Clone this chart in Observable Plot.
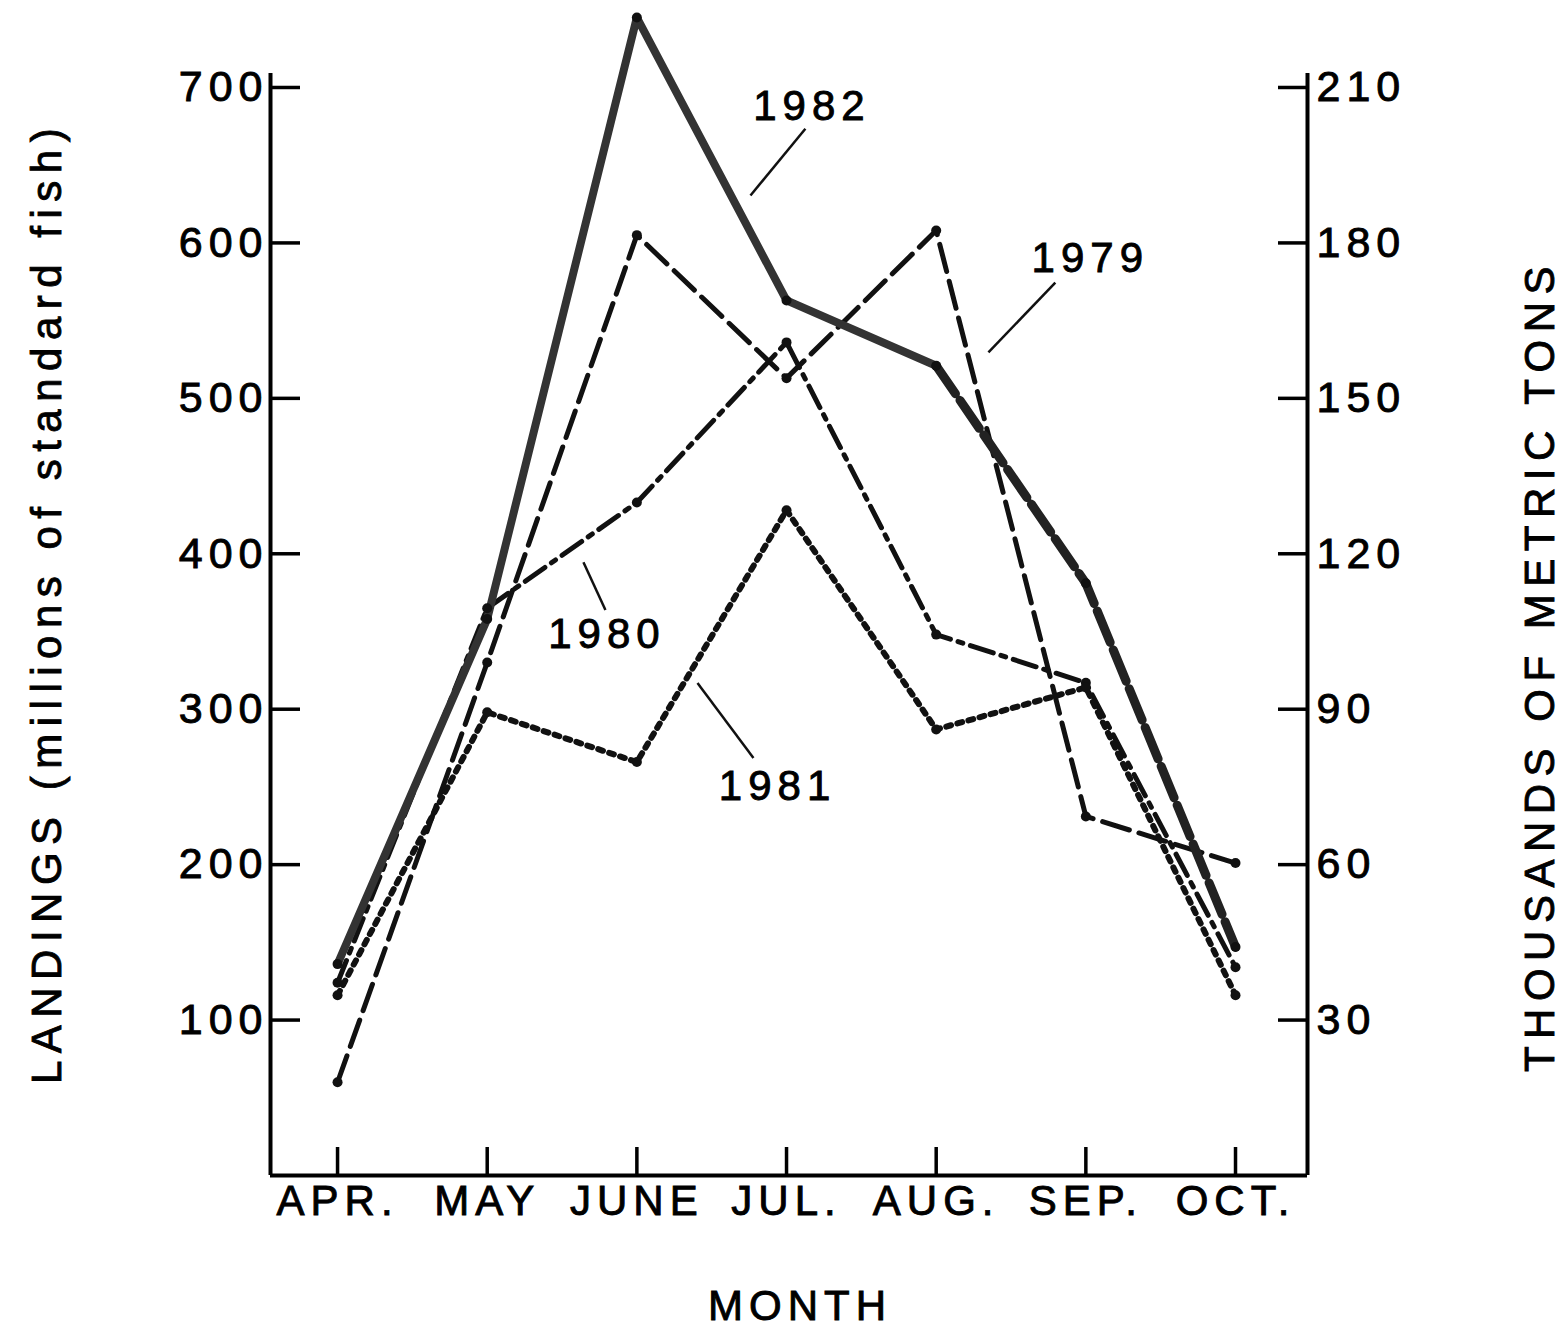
<!DOCTYPE html>
<html><head><meta charset="utf-8">
<script src="https://cdn.jsdelivr.net/npm/d3@7"></script>
<script src="https://cdn.jsdelivr.net/npm/@observablehq/plot@0.6"></script>
<style>
html,body{margin:0;padding:0;background:#fff;}
#chart svg text{letter-spacing:6px;stroke:#000;stroke-width:0.9px;}
#chart svg g.title text{letter-spacing:7.5px;}
</style></head><body><div id="chart"></div>
<script>
// ---- data (millions of standard fish) ----
const months = ["APR.","MAY","JUNE","JUL.","AUG.","SEP.","OCT."];
const years = ["1979","1980","1981","1982"];
const y1979 = [60, 330, 605, 513, 608, 231, 201];
const y1980 = [124, 365, 433, 536, 348, 317, 134];
const y1981 = [116, 298, 266, 428, 287, 314, 116];
const y1982 = [136, 358, 745, 563, 521, 381, 147];
const leftTicks = [100, 200, 300, 400, 500, 600, 700];
const rightTicks = [30, 60, 90, 120, 150, 180, 210];
const tonsPerFish = 0.3; // thousands of metric tons per million standard fish
const leftTitle = "LANDINGS (millions of standard fish)";
const rightTitle = "THOUSANDS OF METRIC TONS";
const xTitle = "MONTH";

// annotation labels and leader lines (data units: month index, landings)
const labelText = ["1982", "1979", "1980", "1981"];
const labelX = [3.17, 5.03, 1.80, 2.94];
const labelY = [688, 590, 348, 250];
const leaderX1 = [3.126, 4.796, 1.643, 2.405];
const leaderY1 = [673.5, 574.5, 394.6, 316.8];
const leaderX2 = [2.759, 4.349, 1.790, 2.779];
const leaderY2 = [630.5, 529.6, 363.8, 268.6];

// ---- build tables ----
const seriesValues = {"1979": y1979, "1980": y1980, "1981": y1981, "1982": y1982};
const rows = years.flatMap(yr => seriesValues[yr].map((v, i) => ({year: yr, i, v})));
const of = yr => rows.filter(d => d.year === yr);
const labels = labelText.map((t, k) => ({t, x: labelX[k], y: labelY[k], x1: leaderX1[k], y1: leaderY1[k], x2: leaderX2[k], y2: leaderY2[k]}));
const monthIdx = months.map((_, i) => i);
const xDomain = [-0.448, 6.481];
const yDomain = [0, 709];
const FONT = 42;

const chart = Plot.plot({
  width: 1568,
  height: 1331,
  marginLeft: 270,
  marginRight: 261,
  marginTop: 73,
  marginBottom: 156,
  style: "font-family: 'Liberation Sans', Arial, Helvetica, sans-serif; font-size: 42px; background: white; color: black;",
  x: {type: "linear", domain: xDomain, axis: null},
  y: {type: "linear", domain: yDomain, axis: null},
  marks: [
    // frame lines
    Plot.ruleX(xDomain, {strokeWidth: 4}),
    Plot.ruleY([0], {strokeWidth: 4}),
    // left axis: inward ticks + labels
    Plot.axisY(leftTicks, {anchor: "left", tickSize: 30, dx: 30, tickFormat: () => "", strokeWidth: 3.5, label: null}),
    Plot.axisY(leftTicks, {anchor: "left", tickSize: 0, tickPadding: 2, fontSize: 43, label: null}),
    // right axis (thousands of metric tons)
    Plot.axisY(rightTicks.map(t => t / tonsPerFish), {anchor: "right", tickSize: 30, dx: -30, tickFormat: () => "", strokeWidth: 3.5, label: null}),
    Plot.axisY(rightTicks.map(t => t / tonsPerFish), {anchor: "right", tickSize: 0, tickPadding: 9, fontSize: 43, tickFormat: d => String(Math.round(d * tonsPerFish)), label: null}),
    // bottom axis
    Plot.axisX(monthIdx, {anchor: "bottom", tickSize: 28, dy: -28, tickFormat: () => "", strokeWidth: 3.5, label: null}),
    Plot.axisX(monthIdx, {anchor: "bottom", tickSize: 0, tickPadding: 10, fontSize: FONT, tickFormat: i => months[i], label: null}),
    // titles
    Plot.text([leftTitle], {frameAnchor: "left", text: d => d, rotate: -90, dx: -223, dy: -22, textAnchor: "middle", lineAnchor: "middle", fontSize: FONT, className: "title"}),
    Plot.text([rightTitle], {frameAnchor: "right", text: d => d, rotate: -90, dx: 233, dy: 41, textAnchor: "middle", lineAnchor: "middle", fontSize: FONT, className: "title"}),
    Plot.text([xTitle], {frameAnchor: "bottom", text: d => d, dx: 11, dy: 131, textAnchor: "middle", lineAnchor: "middle", fontSize: FONT}),
    // series
    Plot.line(of("1979"), {x: "i", y: "v", stroke: "#111", strokeWidth: 5, strokeDasharray: "28 10"}),
    Plot.line(of("1980"), {x: "i", y: "v", stroke: "#111", strokeWidth: 5, strokeDasharray: "24 8 5 8"}),
    Plot.line(of("1981"), {x: "i", y: "v", stroke: "#111", strokeWidth: 6, strokeDasharray: "5 6.5"}),
    Plot.line(of("1982").filter(d => d.i <= 4), {x: "i", y: "v", stroke: "#333", strokeWidth: 8}),
    Plot.line(of("1982").filter(d => d.i >= 4), {x: "i", y: "v", stroke: "#222", strokeWidth: 9, strokeDasharray: "34 8"}),
    Plot.dot(rows, {x: "i", y: "v", r: 5, fill: "#111", stroke: "none"}),
    // annotations
    Plot.link(labels, {x1: "x1", y1: "y1", x2: "x2", y2: "y2", stroke: "#111", strokeWidth: 2.5}),
    Plot.text(labels, {x: "x", y: "y", text: "t", fontSize: FONT, textAnchor: "middle", lineAnchor: "middle"})
  ]
});
document.getElementById("chart").appendChild(chart);
</script></body></html>
